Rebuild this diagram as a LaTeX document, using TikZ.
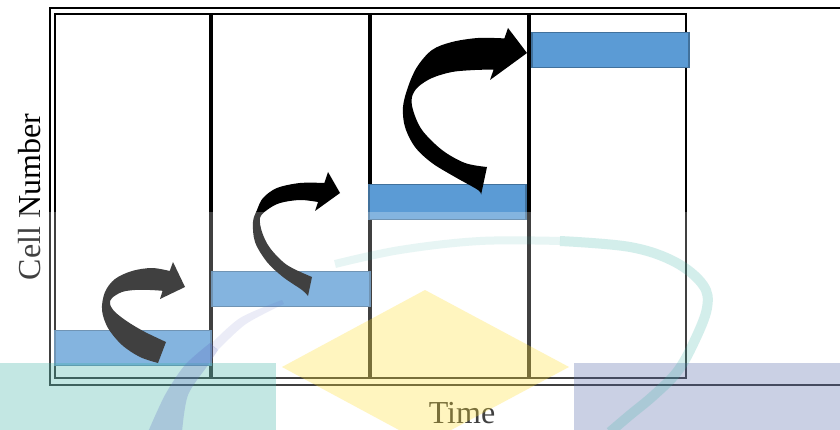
\documentclass[tikz,border=0pt]{standalone}
\usepackage{fontspec}
\setmainfont{Liberation Serif}
\definecolor{barfill}{HTML}{5B9BD5}
\definecolor{barline}{HTML}{41719C}
\definecolor{wmteal}{RGB}{58,178,165}
\definecolor{wmyellow}{RGB}{255,222,45}
\definecolor{wmslate}{RGB}{82,102,168}
\definecolor{wmviolet}{RGB}{95,105,195}
\tikzset{
  frameline/.style={line width=2pt, draw=black},
  column/.style={draw=black, line width=2pt, fill=white},
  bar/.style={rectangle, draw=barline, fill=barfill, line width=1.5pt,
    inner sep=0pt, outer sep=0pt, minimum width=156pt, minimum height=35pt},
  bigarrow/.style={fill=black},
  smoothedge/.style={smooth, tension=0.55},
  axislabel/.style={font=\fontsize{32}{36}\selectfont, inner sep=0pt},
  wm/.style={opacity=0.3}
}
\begin{document}
\begin{tikzpicture}[x=1pt, y=-1pt]
\useasboundingbox (0,0) rectangle (840,430);
\fill[white] (0,0) rectangle (840,430);

% plot frame (double line on top, left and bottom)
\draw[frameline] (840,8.3) -- (50,8.3) -- (50,384.5) -- (840,384.5);

% the four time columns
\draw[column] (54.7,14.5) rectangle (210.3,378);
\draw[column] (212.3,14.5) rectangle (369,378);
\draw[column] (371,14.5) rectangle (527.5,378);
\draw[column] (529.5,14.5) rectangle (686,378);

% cell-number bars
\node[bar] (b1) at (133,348) {};
\node[bar, minimum width=158pt] (b2) at (291,289) {};
\node[bar, minimum width=157pt] (b3) at (447.5,202) {};
\node[bar, minimum width=157pt] (b4) at (610.5,50) {};

% curved growth arrows
\fill[bigarrow] (158,363)
  -- plot[smoothedge] coordinates {(158,363) (140,357) (122,345) (108,328) (102,310) (105,292) (115,279) (132,271) (152,268) (169.7,271)}
  -- (173,262) -- (185,287) -- (160,299)
  -- plot[smoothedge] coordinates {(162.6,290.8) (150,290) (135,290) (122,292) (112,298) (110,304) (115,312) (128,322) (145,332) (166,342)}
  -- cycle;
\fill[bigarrow] (308,296)
  -- plot[smoothedge] coordinates {(308,296) (302,290) (283,277) (267,262) (255,242) (253,222) (257,210) (263,198) (277,188) (300,183) (324.4,183)}
  -- (328,172) -- (340,193) -- (315,211)
  -- plot[smoothedge] coordinates {(318,202) (300,200) (280,203) (267,210) (260,218) (262,232) (270,248) (287,265) (312,277)}
  -- cycle;
\fill[bigarrow] (481,195)
  -- plot[smoothedge] coordinates {(481,195) (478,190) (455,177) (432,163) (415,147) (405,127) (403,107) (408,87) (417,67) (432,50) (452,42) (478,38) (504.4,38.4)}
  -- (508,28) -- (527,53) -- (490,80)
  -- plot[smoothedge] coordinates {(493.6,69.6) (475,70) (452,72) (432,78) (418,87) (412,97) (413,110) (422,130) (442,150) (465,163) (487,167)}
  -- cycle;

% axis titles
\node[axislabel, anchor=base] (xlab) at (462,423) {Time};
\node[axislabel, anchor=base, rotate=90] (ylab) at (40,197) {Cell Number};

% faded logo in the background of the lower half
\begin{scope}
\clip (0,0) rectangle (840,430);
\fill[white, opacity=0.25] (0,212) rectangle (840,430);
\fill[wm, wmteal] (0,363) rectangle (276,430);
\fill[wm, wmslate] (574,363) rectangle (840,430);
\fill[wm, wmyellow] (425,290) -- (569,367) -- (425,444) -- (282,367) -- cycle;
\draw[wmteal, opacity=0.12, line width=8pt, line cap=butt]
  plot[smooth, tension=0.6] coordinates {(335,264) (400,250) (480,241) (560,241)};
\draw[wmteal, opacity=0.22, line width=10pt, line cap=butt]
  plot[smooth, tension=0.6] coordinates {(560,241) (630,247) (675,262) (703,285) (707,308) (694,342) (677,372) (653,396) (630,415) (610,432)};
\fill[wmviolet, opacity=0.12] (210,345)
  -- plot[smooth] coordinates {(210,345) (240,318) (282,300)}
  -- plot[smooth] coordinates {(284,304) (246,324) (218,350)}
  -- cycle;
\fill[wmviolet, opacity=0.25] (148,432)
  -- plot[smooth] coordinates {(148,432) (165,395) (185,365) (210,343)}
  -- plot[smooth] coordinates {(218,350) (208,365) (188,395) (182,432)}
  -- cycle;
\end{scope}
\end{tikzpicture}
\end{document}
